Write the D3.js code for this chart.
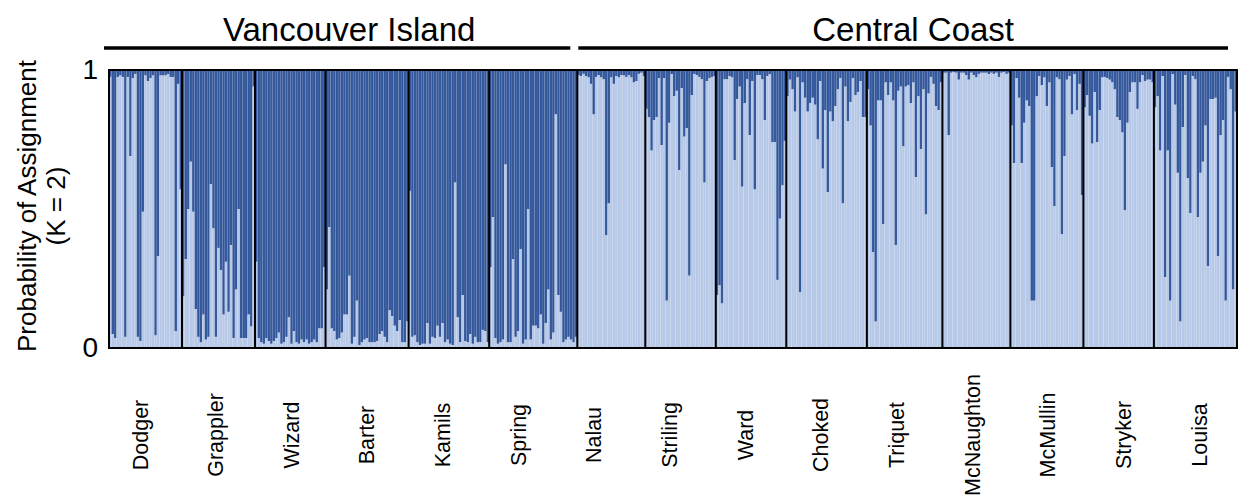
<!DOCTYPE html>
<html>
<head>
<meta charset="utf-8">
<script src="https://cdn.jsdelivr.net/npm/d3@7/dist/d3.min.js"></script>
<style>
  html, body { margin: 0; padding: 0; background: #fff; }
  svg { display: block; font-family: "Liberation Sans", Arial, sans-serif; }
</style>
</head>
<body>
<svg id="chart" width="1238" height="502"></svg>
<script>
// STRUCTURE assignment (K = 2): proportion of each individual's genome
// assigned to the light cluster; the remainder belongs to the dark cluster.
const populations = ["Dodger", "Grappler", "Wizard", "Barter", "Kamils", "Spring",
  "Nalau", "Striling", "Ward", "Choked", "Triquet", "McNaughton", "McMullin", "Stryker", "Louisa"];

const dodger = [0.975,0.05,0.035,0.975,0.98,0.975,0.04,0.975,0.69,0.97,0.985,0.04,0.025,0.49,0.98,
  0.96,0.97,0.98,0.045,0.33,0.98,0.98,0.98,0.985,0.975,0.975,0.06,0.95,0.57];
const grappler = [0.185,0.32,0.50,0.67,0.49,0.14,0.04,0.02,0.12,0.03,0.04,0.59,0.43,0.04,0.36,
  0.28,0.12,0.31,0.13,0.37,0.035,0.21,0.50,0.035,0.035,0.035,0.12,0.077,0.94];
const wizard = [0.31,0.035,0.02,0.015,0.035,0.025,0.015,0.025,0.035,0.055,0.015,0.02,0.04,0.11,
  0.015,0.06,0.02,0.015,0.03,0.02,0.03,0.015,0.02,0.03,0.02,0.07,0.07,0.29];
const barter = [0.21,0.435,0.07,0.06,0.03,0.035,0.055,0.12,0.12,0.26,0.015,0.04,0.17,0.01,0.02,
  0.03,0.035,0.02,0.02,0.02,0.025,0.05,0.06,0.04,0.02,0.135,0.115,0.08,0.06,0.10,0.02,0.02,0.095];
const kamils = [0.565,0.04,0.045,0.02,0.01,0.015,0.015,0.09,0.015,0.04,0.035,0.08,0.04,0.09,0.02,
  0.03,0.015,0.01,0.595,0.11,0.02,0.19,0.025,0.02,0.05,0.015,0.04,0.02,0.02,0.065,0.06,0.02];
const spring = [0.29,0.47,0.035,0.015,0.02,0.03,0.66,0.02,0.02,0.32,0.04,0.06,0.355,0.015,0.03,
  0.50,0.03,0.08,0.08,0.07,0.12,0.015,0.09,0.21,0.03,0.055,0.84,0.19,0.13,0.02,0.03,0.04,0.03,0.02,0.04];
const nalau = [0.982,0.978,0.986,0.978,0.973,0.95,0.84,0.975,0.982,0.973,0.966,0.405,0.52,0.973,
  0.95,0.978,0.973,0.982,0.98,0.975,0.982,0.973,0.955,0.96,0.986,0.99,0.978];
const striling = [0.86,0.83,0.71,0.82,0.83,0.97,0.73,0.97,0.17,0.81,0.985,0.905,0.925,0.64,0.935,
  0.76,0.79,0.26,0.91,0.985,0.982,0.975,0.966,0.595,0.96,0.97,0.975,0.978];
const ward = [0.19,0.225,0.16,0.966,0.966,0.978,0.973,0.675,0.895,0.94,0.58,0.88,0.966,0.765,0.96,
  0.57,0.982,0.982,0.966,0.82,0.978,0.985,0.74,0.74,0.245,0.465,0.585,0.745];
const choked = [0.905,0.965,0.93,0.85,0.973,0.20,0.955,0.90,0.85,0.88,0.90,0.875,0.75,0.96,0.645,
  0.855,0.56,0.85,0.815,0.87,0.93,0.97,0.52,0.94,0.815,0.885,0.97,0.91,0.92,0.96,0.83,0.83];
const triquet = [0.93,0.80,0.345,0.095,0.89,0.89,0.445,0.955,0.91,0.955,0.89,0.37,0.925,0.94,0.725,
  0.94,0.945,0.88,0.955,0.615,0.905,0.715,0.93,0.48,0.915,0.975,0.95,0.87,0.855,0.955];
const mcnaughton = [0.99,0.99,0.765,0.99,0.993,0.99,0.965,0.99,0.99,0.982,0.965,0.99,0.982,0.973,
  0.986,0.99,0.99,0.99,0.985,0.99,0.986,0.99,0.975,0.99,0.993,0.986,0.99];
const mcmullin = [0.80,0.665,0.97,0.90,0.665,0.81,0.89,0.87,0.17,0.17,0.905,0.978,0.945,0.973,0.87,
  0.955,0.65,0.51,0.973,0.966,0.41,0.69,0.965,0.978,0.84,0.985,0.855,0.95,0.55];
const stryker = [0.865,0.91,0.835,0.735,0.92,0.74,0.855,0.973,0.975,0.97,0.965,0.955,0.93,0.83,0.82,
  0.775,0.495,0.81,0.92,0.955,0.955,0.86,0.955,0.982,0.96,0.965,0.965,0.955];
const louisa = [0.865,0.905,0.71,0.978,0.255,0.71,0.17,0.985,0.875,0.63,0.095,0.795,0.982,0.61,0.485,
  0.978,0.966,0.47,0.63,0.67,0.80,0.295,0.895,0.895,0.9,0.33,0.765,0.82,0.17,0.975,0.93,0.21,0.85];

const popValues = [dodger, grappler, wizard, barter, kamils, spring, nalau, striling, ward,
  choked, triquet, mcnaughton, mcmullin, stryker, louisa];

const regionNames = ["Vancouver Island", "Central Coast"];
const regionFirstPop = ["Dodger", "Nalau"];
const regionLastPop = ["Spring", "Louisa"];

const yTicks = [0, 1];
const yTitle = ["Probability of Assignment", "(K = 2)"];

// ---- layout ----
const svg = d3.select("#chart");
const plot = { left: 109, right: 1237, top: 70, bottom: 348 };
const darkBlue = "#33579b";
const lightBlue = "#b6c8e7";

// flatten individuals
const individuals = [];
populations.forEach((p, pi) => {
  popValues[pi].forEach((q, i) => individuals.push({ id: p + "-" + i, pop: p, q }));
});

const x = d3.scaleBand()
  .domain(individuals.map(d => d.id))
  .range([plot.left, plot.right])
  .paddingInner(0).paddingOuter(0);

const y = d3.scaleLinear().domain([0, 1]).range([plot.bottom, plot.top]);

const popStart = p => x(p + "-0");
const popEnd = p => x(p + "-" + (popValues[populations.indexOf(p)].length - 1)) + x.bandwidth();

// bars
const bars = svg.append("g").attr("class", "bars");
const ind = bars.selectAll("g.ind").data(individuals).join("g").attr("class", "ind");

ind.append("rect")
  .attr("x", d => x(d.id))
  .attr("width", x.bandwidth())
  .attr("y", y(1))
  .attr("height", d => y(d.q) - y(1))
  .attr("fill", darkBlue);

ind.append("rect")
  .attr("x", d => x(d.id))
  .attr("width", x.bandwidth())
  .attr("y", d => y(d.q))
  .attr("height", d => y(0) - y(d.q))
  .attr("fill", lightBlue);

// faint seams between individuals
bars.selectAll("line.seam").data(individuals.slice(1)).join("line")
  .attr("class", "seam")
  .attr("x1", d => x(d.id)).attr("x2", d => x(d.id))
  .attr("y1", y(1)).attr("y2", y(0))
  .attr("stroke", "#ffffff").attr("stroke-opacity", 0.12).attr("stroke-width", 0.6);

// population separators
svg.append("g").selectAll("line").data(populations.slice(1)).join("line")
  .attr("x1", d => popStart(d)).attr("x2", d => popStart(d))
  .attr("y1", y(1)).attr("y2", y(0))
  .attr("stroke", "#000").attr("stroke-width", 2);

// frame
svg.append("rect")
  .attr("x", plot.left).attr("y", plot.top)
  .attr("width", plot.right - plot.left).attr("height", plot.bottom - plot.top)
  .attr("fill", "none").attr("stroke", "#000").attr("stroke-width", 2);

// y axis
const yAxis = d3.axisLeft(y).tickValues(yTicks).tickSize(0).tickPadding(11)
  .tickFormat(d3.format("d"));
const ya = svg.append("g").attr("transform", `translate(${plot.left},0)`).call(yAxis);
ya.select(".domain").remove();
ya.selectAll("text").attr("font-size", 28).attr("fill", "#000")
  .attr("font-family", "Liberation Sans, Arial, sans-serif");

// y title
svg.append("text")
  .attr("transform", `translate(36,206) rotate(-90)`)
  .attr("text-anchor", "middle")
  .attr("font-size", 26)
  .text(yTitle[0]);
svg.append("text")
  .attr("transform", `translate(65,206) rotate(-90)`)
  .attr("text-anchor", "middle")
  .attr("font-size", 26)
  .text(yTitle[1]);

// population labels, evenly spaced beneath the plot
const labelX = d3.scalePoint().domain(populations).range([140, 1199]);
svg.append("g").selectAll("text").data(populations).join("text")
  .attr("transform", d => `translate(${labelX(d)},435) rotate(-90)`)
  .attr("text-anchor", "middle")
  .attr("dy", "0.35em")
  .attr("font-size", 21.5)
  .text(d => d);

// region brackets and titles
regionNames.forEach((name, i) => {
  const x0 = popStart(regionFirstPop[i]);
  const x1 = popEnd(regionLastPop[i]);
  const lx0 = i === 0 ? x0 - 5 : x0 + 1;
  const lx1 = i === regionNames.length - 1 ? x1 - 9 : x1 - 7;
  svg.append("line")
    .attr("x1", lx0).attr("x2", lx1)
    .attr("y1", 48).attr("y2", 48)
    .attr("stroke", "#000").attr("stroke-width", 3.5);
  svg.append("text")
    .attr("x", (x0 + x1) / 2 + 6).attr("y", 41)
    .attr("text-anchor", "middle")
    .attr("font-size", 33)
    .text(name);
});
</script>
</body>
</html>
